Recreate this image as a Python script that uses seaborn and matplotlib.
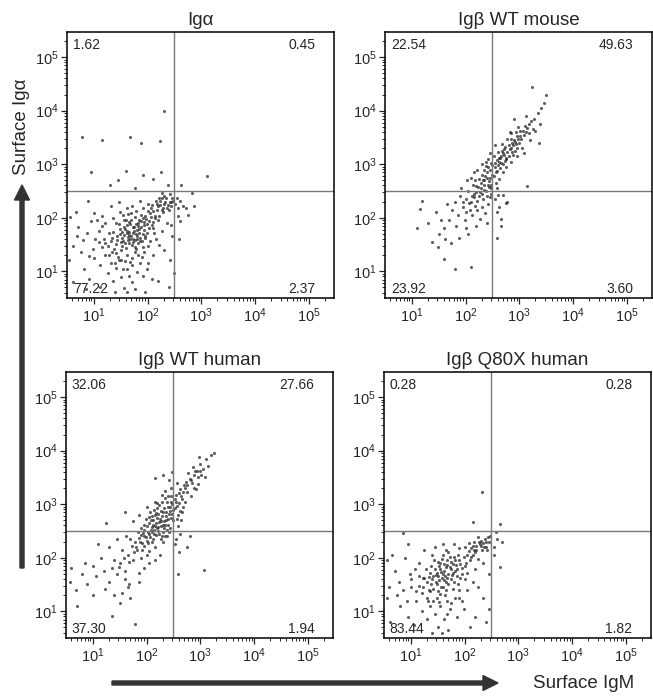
import numpy as np
import pandas as pd
import matplotlib
matplotlib.use('Agg')
import matplotlib.pyplot as plt
import seaborn as sns
from matplotlib.patches import FancyArrow

# ==========================================
# data (log10 of fluorescence)
# ==========================================
panel_titles = ['Ig\u03b1', 'Ig\u03b2 WT mouse', 'Ig\u03b2 WT human', 'Ig\u03b2 Q80X human']

# quadrant percentages: UL, UR, LL, LR
quad_pct = [
    ['1.62', '0.45', '77.22', '2.37'],
    ['22.54', '49.63', '23.92', '3.60'],
    ['32.06', '27.66', '37.30', '1.94'],
    ['0.28', '0.28', '83.44', '1.82'],
]

gate_log = 2.5  # quadrant gate at ~10^2.5 on both axes

# (log IgM, log Ig-alpha)
iga_pts = [
    (1.62, 1.71), (1.74, 1.83), (1.81, 1.77), (1.77, 1.58), (1.66, 1.92), (1.93, 1.86), (1.86, 1.63),
    (1.54, 1.57), (1.71, 1.49), (1.97, 1.98), (1.48, 1.79), (1.59, 1.44), (1.83, 1.91), (1.91, 1.69),
    (1.76, 2.02), (1.44, 1.66), (1.67, 1.61), (2.02, 1.81), (1.82, 1.53), (1.72, 1.72), (1.56, 1.96),
    (1.87, 2.06), (2.06, 2.01), (1.41, 1.51), (1.61, 1.31), (1.76, 1.36), (1.96, 1.62), (1.51, 1.39),
    (1.36, 1.74), (2.11, 1.92), (1.64, 2.07), (1.92, 1.46), (1.79, 1.41), (1.46, 1.88), (1.31, 1.56),
    (1.56, 1.67), (1.69, 1.96), (2.01, 2.12), (1.84, 1.79), (1.61, 1.86), (1.74, 1.76), (1.94, 1.77),
    (1.52, 1.62), (1.66, 1.74), (1.81, 1.66), (1.42, 1.34), (1.26, 1.47), (2.12, 1.71), (1.71, 1.24),
    (1.89, 1.27), (1.58, 1.52), (1.88, 1.94), (1.69, 1.66), (1.79, 1.88), (1.99, 1.89), (1.63, 1.58),
    (1.53, 1.73), (1.84, 1.71), (1.73, 1.54), (1.96, 2.04),
    (1.58, 1.78), (1.68, 1.88), (1.78, 1.70), (1.88, 1.82), (1.63, 1.64), (1.73, 1.60), (1.83, 1.84),
    (1.93, 1.92), (1.53, 1.48), (1.48, 1.70), (1.98, 1.72), (2.03, 1.94), (1.70, 2.08), (1.60, 1.96),
    (1.86, 1.56), (1.76, 1.46), (1.66, 1.52), (1.56, 1.82), (1.43, 1.58), (1.38, 1.42), (1.91, 2.00),
    (2.08, 1.86), (2.14, 2.04), (1.80, 1.60), (1.72, 1.82), (1.62, 1.76), (1.50, 1.54), (1.96, 1.66),
    (1.84, 1.96), (1.66, 1.68),
    (2.11, 2.12), (2.19, 2.21), (2.26, 2.14), (2.31, 2.26), (2.36, 2.19), (2.16, 2.31), (2.41, 2.29),
    (2.21, 2.04), (2.29, 2.11), (2.44, 2.22), (2.06, 2.19), (2.24, 2.31), (2.34, 2.36), (2.14, 1.99),
    (2.39, 2.14), (2.01, 2.26), (2.31, 2.41), (2.46, 2.36), (2.21, 2.37), (2.09, 2.24), (2.51, 2.26),
    (2.56, 2.19), (2.61, 2.31), (2.66, 2.21), (2.54, 2.37), (2.71, 2.18), (2.86, 2.21), (2.56, 2.04),
    (2.61, 1.94), (2.59, 1.61), (2.27, 2.46), (2.42, 2.44), (2.18, 2.14), (2.24, 2.24), (2.28, 2.18),
    (2.33, 2.30), (2.38, 2.24), (2.18, 2.26), (2.44, 2.30), (2.04, 2.08), (2.48, 2.31), (2.26, 2.36),
    (1.02, 1.61), (0.91, 1.29), (1.11, 1.12), (0.71, 1.82), (0.61, 1.48), (1.21, 1.91), (1.06, 1.96),
    (0.81, 1.04), (1.26, 0.96), (1.41, 1.06), (1.51, 0.89), (1.61, 1.04), (1.71, 0.79), (1.56, 0.69),
    (1.81, 0.99), (1.36, 0.81), (1.61, 0.61), (1.76, 0.66), (1.91, 0.91), (2.01, 1.16), (2.11, 1.31),
    (2.21, 1.49), (2.31, 1.39), (2.41, 1.21), (2.39, 0.71), (2.19, 0.81), (1.11, 0.71), (0.91, 0.86),
    (0.54, 1.21), (0.55, 2.01), (0.66, 2.11), (0.89, 2.31), (1.01, 2.09), (1.31, 2.21), (1.46, 2.29),
    (1.61, 2.19), (1.21, 1.31), (0.99, 1.41), (0.79, 1.59), (1.31, 1.16), (1.46, 1.21), (1.19, 1.61),
    (1.09, 1.76), (0.76, 1.36), (1.94, 1.36), (2.04, 1.56), (2.26, 1.76), (2.36, 1.91), (2.46, 1.66),
    (0.61, 0.79), (1.86, 2.31), (1.71, 2.21), (1.49, 2.11), (1.91, 2.19), (1.99, 1.04), (1.66, 0.91),
    (1.34, 1.36), (1.16, 1.46), (0.94, 1.94), (0.86, 0.66), (1.41, 1.91), (1.29, 1.71), (1.16, 2.04),
    (2.16, 1.61), (1.86, 1.16), (1.71, 1.11), (1.51, 1.21), (1.96, 0.61), (2.09, 0.86), (2.49, 0.96),
    (2.44, 1.86), (0.69, 1.66), (1.39, 0.61), (1.33, 1.62), (1.28, 1.30), (1.20, 1.52), (1.45, 1.26),
    (1.58, 1.20), (1.82, 1.30), (2.00, 1.48), (1.90, 1.56), (1.55, 1.05), (1.68, 1.18), (1.10, 1.55),
    (1.00, 1.25), (0.88, 1.72), (1.15, 1.85), (1.35, 2.00), (1.55, 2.05), (1.78, 2.12), (2.10, 1.80),
    (2.20, 1.95), (1.40, 1.15),
    (0.78, 3.50), (1.16, 3.45), (1.68, 3.50), (1.87, 3.39), (2.24, 3.43), (2.31, 4.00), (3.11, 2.78),
    (0.95, 2.85), (1.30, 2.62), (1.60, 2.88), (1.92, 2.80), (2.10, 2.72), (1.76, 2.56), (2.38, 2.62),
    (1.45, 2.70), (2.25, 2.85), (2.62, 2.62), (2.82, 2.46), (2.75, 2.05),
]

mouse_pts = [
    (2.55, 2.95), (2.62, 3.05), (2.58, 2.88), (2.70, 3.20), (2.66, 3.02), (2.75, 3.12), (2.80, 3.35),
    (2.72, 3.28), (2.85, 3.30), (2.90, 3.45), (2.88, 3.18), (2.95, 3.52), (3.00, 3.40), (3.02, 3.62),
    (3.08, 3.55), (3.10, 3.72), (3.15, 3.68), (3.05, 3.30), (3.18, 3.58), (3.22, 3.80), (3.25, 3.66),
    (3.28, 3.85), (3.12, 3.90), (2.98, 3.70), (2.78, 3.48), (2.68, 3.38), (2.60, 3.22), (2.52, 3.15),
    (2.48, 3.02), (2.45, 2.90), (2.50, 2.80), (2.62, 2.72), (2.76, 2.95), (2.84, 3.05), (2.92, 3.25),
    (2.96, 3.15), (3.04, 3.48), (2.82, 3.60), (2.70, 2.85), (2.56, 2.65), (2.64, 3.12), (2.74, 3.06),
    (2.86, 3.40), (2.94, 3.38), (3.20, 3.45), (3.30, 3.62), (3.35, 3.95), (3.40, 4.05), (3.46, 4.15),
    (3.50, 4.30), (3.23, 4.45), (3.38, 3.75), (2.90, 3.85), (2.55, 3.35), (2.42, 3.10), (3.36, 3.40),
    (3.08, 3.20), (2.58, 2.55),
    (2.60, 2.98), (2.66, 3.15), (2.72, 3.18), (2.78, 3.22), (2.82, 3.28), (2.88, 3.36), (2.92, 3.42),
    (2.98, 3.48), (3.02, 3.52), (2.58, 3.08), (2.64, 2.92), (2.70, 3.00), (2.76, 3.10), (2.80, 3.15),
    (2.86, 3.22), (2.50, 2.98), (2.54, 3.02), (2.62, 3.12), (2.68, 3.25), (2.74, 3.32), (2.84, 3.48),
    (2.94, 3.60), (3.06, 3.62), (3.12, 3.60), (2.56, 2.85), (2.96, 3.30), (3.18, 3.75), (2.84, 3.58),
    (2.40, 2.75), (2.35, 2.62), (2.30, 2.80), (2.28, 2.55), (2.20, 2.60), (2.25, 2.40), (2.15, 2.45),
    (2.10, 2.30), (2.32, 2.35), (2.38, 2.50), (2.44, 2.58), (2.46, 2.38), (2.18, 2.22), (2.05, 2.50),
    (2.00, 2.35), (2.08, 2.15), (1.95, 2.20), (1.90, 2.40), (1.85, 2.05), (1.98, 1.95), (2.12, 2.05),
    (2.22, 2.15), (2.30, 2.20), (2.42, 2.25), (2.36, 2.08), (2.26, 1.98), (2.48, 2.45), (2.14, 2.62),
    (2.02, 2.70), (1.92, 2.55), (1.80, 2.30), (1.75, 2.15), (1.70, 1.95), (1.82, 1.85), (1.65, 2.25),
    (1.60, 1.80), (1.55, 1.95), (1.50, 1.70), (1.45, 2.10), (1.59, 1.23), (1.81, 1.05), (2.11, 1.08),
    (1.72, 1.52), (1.62, 1.60), (2.00, 1.80), (2.20, 1.85), (2.40, 1.90), (1.18, 2.31), (1.10, 1.80),
    (1.16, 2.16), (1.30, 1.90), (1.38, 1.55), (1.48, 1.45), (1.88, 1.62), (2.05, 1.70), (2.34, 2.90),
    (2.25, 2.72), (2.44, 2.68), (2.16, 2.85), (2.40, 2.85), (2.36, 2.78), (2.32, 2.70), (2.28, 2.64),
    (2.24, 2.58), (2.20, 2.48), (2.16, 2.38), (2.12, 2.40), (2.26, 2.48), (2.34, 2.52), (2.42, 2.62),
    (2.46, 2.75), (2.52, 2.78), (2.30, 2.45), (2.22, 2.32), (2.06, 2.28), (2.40, 2.40), (2.48, 2.55),
    (2.00, 2.10), (1.95, 2.30), (2.18, 2.70), (2.38, 2.96),
    (2.55, 2.35), (2.62, 2.20), (2.70, 2.42), (2.58, 2.10), (2.66, 1.98), (2.78, 2.30), (2.58, 1.62),
    (2.75, 2.28), (2.60, 2.42), (2.65, 1.85), (3.15, 2.60),
    (2.42, 2.95), (2.38, 3.05), (2.30, 3.00), (2.22, 2.90), (2.46, 3.20), (2.35, 2.70), (2.10, 2.75),
    (2.48, 2.62),
]

human_wt_pts = [
    (2.18, 2.65), (2.25, 2.72), (2.10, 2.58), (2.30, 2.85), (2.05, 2.45), (2.15, 2.80), (2.35, 2.62),
    (2.22, 2.50), (2.40, 2.95), (2.00, 2.60), (2.28, 2.40), (2.12, 2.35), (1.95, 2.40), (2.45, 2.75),
    (2.38, 3.05), (2.20, 2.92), (2.08, 2.70), (1.90, 2.55), (2.32, 2.55), (2.48, 3.00), (2.42, 2.48),
    (2.02, 2.28), (1.88, 2.30), (2.26, 2.60), (2.14, 2.52), (2.36, 2.78), (2.18, 2.42), (1.98, 2.72),
    (2.44, 2.88), (2.24, 2.98), (2.06, 2.85), (1.84, 2.48), (2.50, 2.70), (2.16, 2.20), (2.30, 2.30),
    (1.92, 2.15), (2.04, 2.12), (2.34, 3.12), (2.46, 3.15), (2.27, 2.68), (2.12, 2.62), (2.38, 2.40),
    (1.96, 2.52), (2.22, 2.82), (2.40, 2.62), (2.20, 2.75), (2.32, 2.92), (2.10, 2.48), (2.26, 2.35),
    (2.44, 2.55), (2.05, 2.65), (1.98, 2.38), (2.36, 2.70), (2.14, 2.90), (2.48, 2.82),
    (2.16, 2.60), (2.24, 2.66), (2.20, 2.55), (2.28, 2.78), (2.12, 2.70), (2.08, 2.52), (2.32, 2.68),
    (2.36, 2.85), (2.26, 2.88), (2.18, 2.84), (2.02, 2.48), (1.94, 2.46), (2.06, 2.38), (2.14, 2.44),
    (2.22, 2.58), (2.30, 2.62), (2.40, 2.72), (2.44, 2.95), (2.38, 2.52), (2.30, 2.48), (2.10, 2.30),
    (2.00, 2.32), (1.90, 2.42), (1.86, 2.36), (2.24, 2.45), (2.34, 2.40), (2.42, 2.82), (2.10, 2.78),
    (2.04, 2.76), (1.96, 2.62), (1.92, 2.28), (2.28, 3.05), (2.40, 3.15), (2.20, 3.02),
    (2.55, 3.05), (2.60, 3.20), (2.52, 2.92), (2.58, 2.80), (2.65, 3.10), (2.70, 3.35), (2.62, 3.28),
    (2.75, 3.22), (2.80, 3.48), (2.72, 3.05), (2.85, 3.40), (2.90, 3.62), (2.78, 3.58), (2.95, 3.50),
    (3.00, 3.75), (2.88, 3.30), (3.05, 3.65), (3.10, 3.85), (2.98, 3.88), (3.15, 3.72), (3.20, 3.92),
    (3.26, 3.95), (2.68, 2.95), (2.82, 3.15), (2.56, 3.40), (2.64, 2.70), (2.92, 3.28), (3.02, 3.55),
    (2.74, 3.42), (2.86, 3.70), (2.58, 2.60), (2.66, 2.85), (2.54, 3.18), (2.96, 3.38), (3.08, 3.50),
    (2.46, 3.05), (2.50, 2.90), (2.52, 3.10), (2.56, 2.96), (2.60, 3.02), (2.64, 3.15), (2.68, 3.22),
    (2.72, 3.30), (2.76, 3.35), (2.82, 3.45), (2.88, 3.55), (2.94, 3.62), (3.00, 3.62), (2.56, 2.72),
    (2.62, 2.88),
    (2.45, 3.30), (2.35, 3.25), (2.42, 3.45), (2.28, 3.18), (2.15, 3.05), (2.00, 2.95), (1.85, 2.80),
    (1.60, 2.86), (2.15, 3.49), (1.25, 2.65), (1.75, 2.68), (2.30, 3.55), (2.48, 3.60),
    (1.80, 2.20), (1.70, 2.35), (1.65, 2.05), (1.75, 1.95), (1.55, 2.15), (1.50, 1.90), (1.60, 1.75),
    (1.40, 1.95), (1.45, 1.70), (1.35, 1.80), (1.30, 1.55), (1.20, 1.75), (1.15, 2.00), (1.05, 1.65),
    (1.00, 1.85), (0.90, 1.50), (0.80, 1.70), (0.69, 1.40), (0.58, 1.55), (1.36, 0.91), (1.79, 0.76),
    (1.65, 1.45), (1.70, 1.25), (1.55, 1.35), (1.40, 1.30), (1.85, 1.55), (1.95, 1.80), (2.05, 1.90),
    (2.15, 1.95), (1.90, 2.00), (2.25, 2.05), (1.60, 1.60), (1.30, 2.20), (1.10, 2.25), (0.85, 1.90),
    (0.60, 1.80), (1.50, 1.15), (1.68, 1.50), (1.85, 1.72), (1.22, 1.42), (1.45, 2.35), (1.62, 2.40),
    (1.00, 1.30), (0.70, 1.10), (2.00, 2.05), (1.78, 2.30), (1.95, 2.22), (1.82, 2.15), (1.76, 2.10),
    (1.72, 2.22), (1.68, 1.92), (1.58, 2.00), (1.48, 1.82),
    (2.55, 2.35), (2.62, 2.45), (2.75, 2.20), (3.06, 1.77), (2.60, 2.10), (2.52, 2.25), (2.80, 2.40),
    (2.58, 1.70),
]

human_q80x_pts = [
    (1.57, 1.74), (1.65, 1.82), (1.50, 1.65), (1.70, 1.70), (1.62, 1.58), (1.45, 1.78), (1.78, 1.88),
    (1.55, 1.90), (1.40, 1.60), (1.68, 1.95), (1.82, 1.75), (1.48, 1.50), (1.60, 1.45), (1.75, 1.60),
    (1.35, 1.72), (1.90, 1.95), (1.52, 1.85), (1.72, 2.02), (1.85, 1.65), (1.42, 1.42), (1.30, 1.55),
    (1.64, 1.66), (1.58, 1.98), (1.80, 1.55), (1.95, 1.80), (1.38, 1.85), (1.66, 1.40), (1.54, 1.32),
    (1.88, 2.05), (1.46, 1.68), (1.74, 1.78), (1.60, 1.70), (1.98, 2.02), (1.25, 1.62), (1.70, 1.50),
    (1.82, 1.95), (1.44, 1.96), (1.36, 1.38), (1.92, 1.62), (1.68, 1.86),
    (1.55, 1.78), (1.62, 1.88), (1.72, 1.82), (1.78, 1.72), (1.68, 1.62), (1.58, 1.62), (1.48, 1.72),
    (1.42, 1.66), (1.52, 1.58), (1.62, 1.76), (1.74, 1.92), (1.84, 1.86), (1.92, 1.88), (1.86, 1.78),
    (1.76, 1.68), (1.66, 1.54), (1.56, 1.46), (1.46, 1.55), (1.38, 1.50), (1.34, 1.64), (1.50, 1.92),
    (1.60, 2.05), (1.70, 2.10), (1.80, 2.02), (1.95, 1.70), (2.00, 1.85), (1.88, 1.50), (1.78, 1.42),
    (1.64, 1.30), (1.50, 1.38),
    (2.05, 2.05), (2.12, 2.18), (2.20, 2.10), (2.28, 2.25), (2.35, 2.28), (2.18, 2.30), (2.25, 2.38),
    (2.40, 2.20), (2.32, 2.15), (2.10, 1.95), (2.00, 2.20), (2.22, 2.22), (2.38, 2.35), (2.30, 2.32),
    (2.15, 2.05), (2.45, 2.30), (2.42, 2.15), (2.48, 2.40), (2.08, 2.28), (2.02, 1.90), (2.25, 1.98),
    (2.08, 2.12), (2.15, 2.22), (2.22, 2.15), (2.30, 2.22), (2.36, 2.20), (2.40, 2.30), (2.26, 2.30),
    (2.18, 2.15), (2.12, 2.02), (2.44, 2.38),
    (2.55, 2.20), (2.60, 2.35), (2.65, 1.83), (2.55, 2.05), (2.70, 2.30), (2.58, 2.48),
    (1.00, 1.60), (0.85, 1.40), (1.10, 1.20), (0.70, 1.75), (0.60, 1.45), (1.15, 1.90), (0.90, 2.00),
    (0.80, 1.10), (1.20, 1.00), (1.35, 1.10), (1.45, 0.95), (1.55, 1.10), (1.62, 0.85), (1.50, 0.70),
    (1.72, 1.05), (1.30, 0.85), (1.58, 0.60), (1.70, 0.65), (1.85, 0.90), (1.95, 1.20), (2.05, 1.40),
    (2.15, 1.55), (2.25, 1.45), (2.35, 1.25), (2.40, 0.80), (2.20, 0.90), (1.05, 0.75), (0.95, 0.90),
    (0.55, 1.25), (0.55, 1.95), (0.65, 2.05), (0.95, 2.25), (1.25, 2.15), (1.45, 2.20), (1.60, 2.25),
    (1.20, 1.35), (1.00, 1.45), (0.78, 1.55), (1.32, 1.20), (1.48, 1.25), (1.22, 1.62), (1.08, 1.78),
    (0.75, 1.30), (1.90, 1.40), (2.00, 1.60), (2.20, 1.78), (2.35, 1.90), (2.45, 1.70), (0.62, 0.80),
    (1.80, 2.25), (1.65, 2.15), (1.90, 2.18), (1.98, 1.05), (1.68, 0.95), (1.34, 1.40), (1.16, 1.48),
    (0.92, 1.20), (1.40, 2.05), (1.82, 1.25), (1.75, 1.15), (1.52, 1.18), (2.10, 0.70), (2.45, 1.05),
    (1.40, 0.60), (1.28, 1.78), (1.22, 1.45), (1.15, 1.65), (1.30, 1.25), (1.42, 1.20), (1.68, 1.20),
    (1.90, 1.25), (2.05, 1.72), (1.10, 1.38), (0.98, 1.70),
    (2.16, 2.67), (2.33, 3.23), (2.65, 2.63), (0.86, 2.46),
]

all_pts = [iga_pts, mouse_pts, human_wt_pts, human_q80x_pts]

# ==========================================
# figure
# ==========================================
sns.set_style('ticks')
plt.rcParams['font.family'] = ['Liberation Sans', 'DejaVu Sans']
plt.rcParams['mathtext.fontset'] = 'custom'
plt.rcParams['mathtext.rm'] = 'Liberation Sans'

W, H = 653, 696
fig = plt.figure(figsize=(W / 100, H / 100), dpi=100)

# axes boxes in pixels: left, top, width, height
boxes = [(67, 32, 267, 266), (385, 32, 267, 266), (66, 372, 267, 266), (384, 372, 267, 266)]

for i, (box, pts) in enumerate(zip(boxes, all_pts)):
    l, t, w, h = box
    ax = fig.add_axes([l / W, 1 - (t + h) / H, w / W, h / H])
    df = pd.DataFrame(pts, columns=['log_igm', 'log_iga'])
    df['IgM'] = 10 ** df['log_igm']
    df['Iga'] = 10 ** df['log_iga']
    sns.scatterplot(data=df, x='IgM', y='Iga', ax=ax, s=5, color='#2a2a2a',
                    linewidth=0, alpha=0.75, legend=False)
    ax.set_xscale('log')
    ax.set_yscale('log')
    ax.set_xlim(10 ** 0.5, 10 ** 5.47)
    ax.set_ylim(10 ** 0.5, 10 ** 5.47)
    ax.set_xticks([10, 100, 1000, 10000, 100000])
    ax.set_yticks([10, 100, 1000, 10000, 100000])
    ax.axvline(10 ** gate_log, color='#7a7a7a', lw=1.0, zorder=1)
    ax.axhline(10 ** gate_log, color='#7a7a7a', lw=1.0, zorder=1)
    ax.set_xlabel('')
    ax.set_ylabel('')
    for sp in ax.spines.values():
        sp.set_visible(True)
        sp.set_linewidth(1.1)
        sp.set_color('black')
    ax.tick_params(which='major', direction='out', length=4, width=0.9, labelsize=10.5, pad=2)
    ax.tick_params(which='minor', direction='out', length=2, width=0.7)
    ax.set_title(panel_titles[i], fontsize=13.5, pad=5)

    ul, ur, ll, lr = quad_pct[i]
    ax.text(0.022, 0.95, ul, transform=ax.transAxes, fontsize=10, ha='left', va='center')
    ax.text(0.93, 0.95, ur, transform=ax.transAxes, fontsize=10, ha='right', va='center')
    ax.text(0.022, 0.035, ll, transform=ax.transAxes, fontsize=10, ha='left', va='center')
    ax.text(0.93, 0.035, lr, transform=ax.transAxes, fontsize=10, ha='right', va='center')

# axis arrows and labels
arrow_col = '#333333'
fig.add_artist(FancyArrow(0.22, 1.28, 0, 3.83, width=0.04, head_width=0.15, head_length=0.15,
                          length_includes_head=True, color=arrow_col, transform=fig.dpi_scale_trans))
fig.add_artist(FancyArrow(1.12, 0.13, 3.86, 0, width=0.04, head_width=0.15, head_length=0.15,
                          length_includes_head=True, color=arrow_col, transform=fig.dpi_scale_trans))
fig.text(22 / W, 1 - 127 / H, 'Surface Ig\u03b1', rotation=90, fontsize=13.5, ha='center', va='center')
fig.text(584 / W, 13 / H, 'Surface IgM', fontsize=13.5, ha='center', va='center')

fig.savefig('out.png', dpi=100)
